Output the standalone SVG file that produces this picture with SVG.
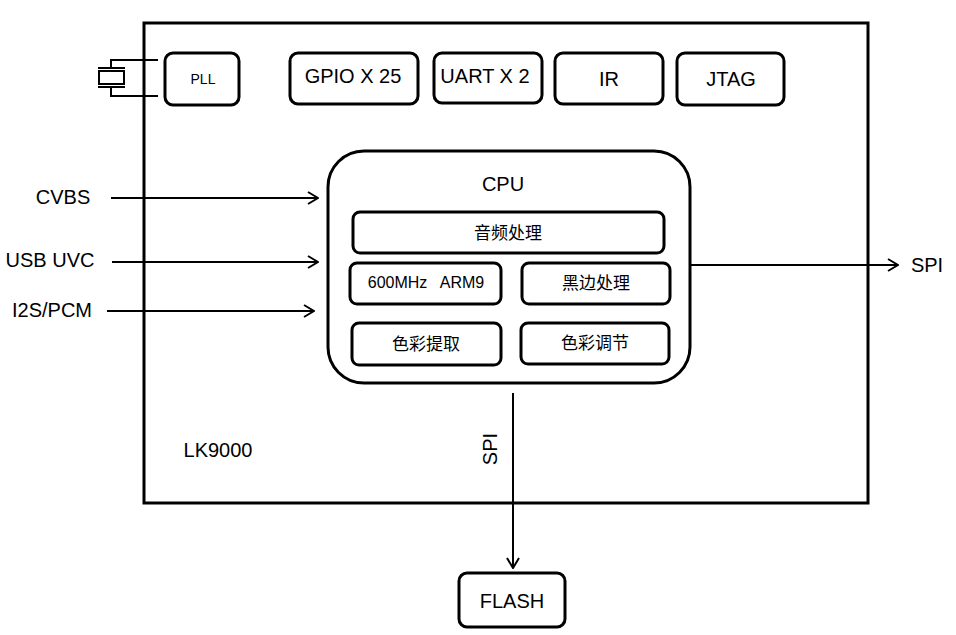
<svg xmlns="http://www.w3.org/2000/svg" width="956" height="635" viewBox="0 0 956 635">
<style>
.box{fill:#fff;stroke:#000;stroke-width:3}
.wire{fill:none;stroke:#000;stroke-width:2}
.t{font-family:"Liberation Sans","Noto Sans CJK SC",sans-serif;fill:#000;text-anchor:middle}
.cjk{font-family:"Noto Sans CJK SC",sans-serif;fill:#000;text-anchor:middle}
</style>
<defs>
<marker id="arr" viewBox="0 0 12 14" refX="11" refY="7" markerWidth="12" markerHeight="14" markerUnits="userSpaceOnUse" orient="auto">
<path d="M1,1 L11,7 L1,13" fill="none" stroke="#000" stroke-width="2"/>
</marker>
</defs>
<rect width="956" height="635" fill="#fff"/>
<g id="chip">
<rect x="144" y="23" width="724" height="480" fill="none" stroke="#000" stroke-width="3"/>
<text class="t" x="218" y="457" font-size="20">LK9000</text>
</g>
<g id="crystal">
<path class="wire" d="M158,60 H111 V67 M158,96 H111 V88"/>
<path class="wire" d="M98,68 H125 M98,87 H125"/>
<rect x="99" y="71" width="25" height="13" fill="#fff" stroke="#000" stroke-width="2"/>
</g>
<g id="pll">
<rect class="box" x="165" y="53" width="74" height="52" rx="8"/>
<text class="t" x="203" y="84" font-size="14">PLL</text>
</g>
<g id="gpio">
<rect class="box" x="290" y="53" width="128" height="51" rx="8"/>
<text class="t" x="353" y="83" font-size="20">GPIO X 25</text>
</g>
<g id="uart">
<rect class="box" x="434" y="53" width="108" height="50" rx="8"/>
<text class="t" x="485" y="83" font-size="20">UART X 2</text>
</g>
<g id="ir">
<rect class="box" x="555" y="53" width="108" height="51" rx="8"/>
<text class="t" x="609" y="86" font-size="20">IR</text>
</g>
<g id="jtag">
<rect class="box" x="677" y="53" width="107" height="52" rx="8"/>
<text class="t" x="731" y="86" font-size="20">JTAG</text>
</g>
<g id="cpu">
<rect class="box" x="328" y="151" width="362" height="232" rx="36"/>
<text class="t" x="503" y="191" font-size="20">CPU</text>
</g>
<g id="audio">
<rect class="box" x="353" y="212" width="311" height="41" rx="7"/>
<text class="cjk" x="508" y="239" font-size="17">音频处理</text>
</g>
<g id="arm">
<rect class="box" x="350" y="263" width="151" height="41" rx="7"/>
<text class="t" x="426" y="288" font-size="16" xml:space="preserve">600MHz   ARM9</text>
</g>
<g id="border">
<rect class="box" x="522" y="263" width="148" height="41" rx="7"/>
<text class="cjk" x="596" y="289" font-size="17">黑边处理</text>
</g>
<g id="extract">
<rect class="box" x="352" y="323" width="149" height="42" rx="7"/>
<text class="cjk" x="426" y="350" font-size="17">色彩提取</text>
</g>
<g id="adjust">
<rect class="box" x="521" y="323" width="148" height="41" rx="7"/>
<text class="cjk" x="595" y="349" font-size="17">色彩调节</text>
</g>
<g id="flash">
<rect class="box" x="459" y="573" width="106" height="54" rx="8"/>
<text class="t" x="512" y="608" font-size="20">FLASH</text>
</g>
<g id="labels">
<text class="t" x="63" y="204" font-size="20">CVBS</text>
<text class="t" x="50" y="267" font-size="20">USB UVC</text>
<text class="t" x="52" y="317" font-size="20">I2S/PCM</text>
<text class="t" x="927" y="272" font-size="20">SPI</text>
<text class="t" font-size="20" transform="translate(497,449) rotate(-90)">SPI</text>
</g>
<g id="connectors">
<line class="wire" x1="111" y1="198" x2="318" y2="198" marker-end="url(#arr)"/>
<line class="wire" x1="112" y1="262" x2="318" y2="262" marker-end="url(#arr)"/>
<line class="wire" x1="107" y1="311" x2="314" y2="311" marker-end="url(#arr)"/>
<line class="wire" x1="690" y1="265" x2="898" y2="265" marker-end="url(#arr)"/>
<line class="wire" x1="513" y1="393" x2="513" y2="568" marker-end="url(#arr)"/>
</g>
</svg>
